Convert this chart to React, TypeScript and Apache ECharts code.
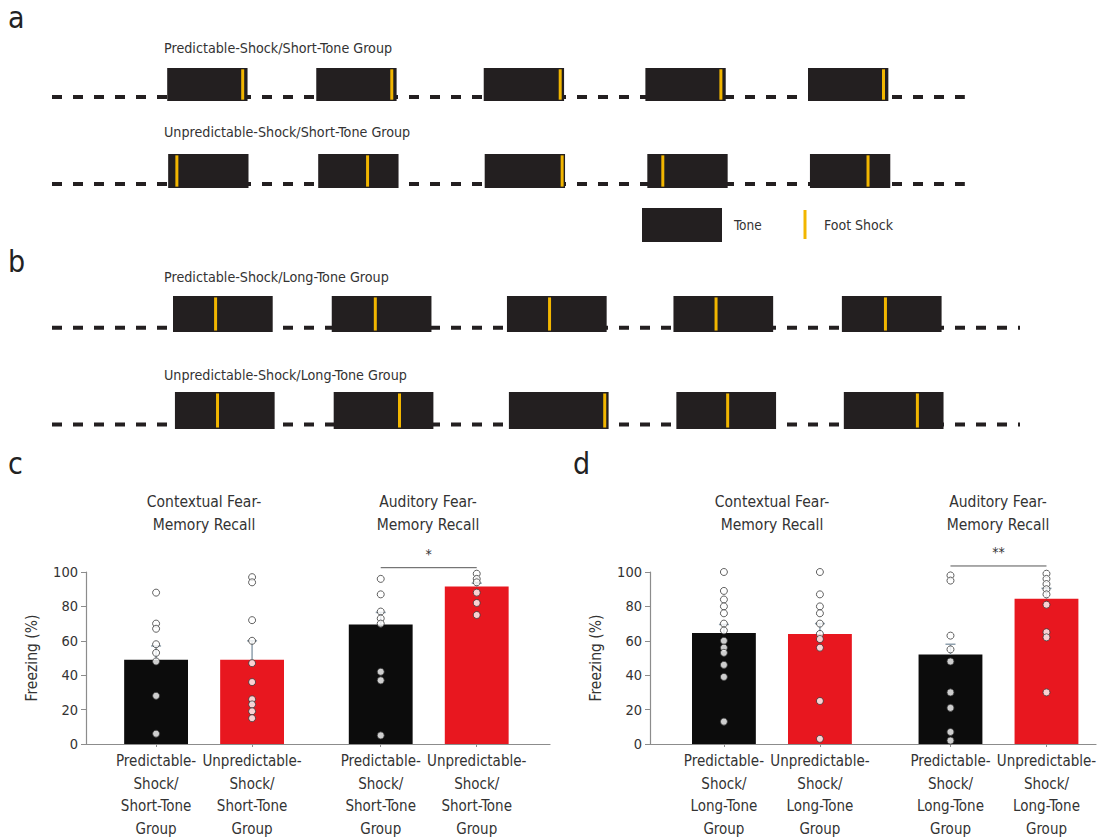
import React, { useEffect, useRef } from "react";
import * as echarts from "echarts";

const FONT = "'Liberation Sans Narrow', 'Arial Narrow', 'DejaVu Sans Condensed', 'Liberation Sans', sans-serif";
const TEXT = "#333333";
const TONE = "#231f20";
const SHOCK = "#f2b600";
const BLACK_BAR = "#0c0c0c";
const RED_BAR = "#e8171f";

// ---------- panels a & b : session timelines (arbitrary time units) ----------
const rowTitles = [
  "Predictable-Shock/Short-Tone Group",
  "Unpredictable-Shock/Short-Tone Group",
  "Predictable-Shock/Long-Tone Group",
  "Unpredictable-Shock/Long-Tone Group",
];
const predShortToneStarts = [11.9, 27.3, 44.6, 61.3, 78.1];
const predShortShocks = [19.7, 35.1, 52.5, 69.1, 85.9];
const unpredShortToneStarts = [12.0, 27.5, 44.7, 61.5, 78.3];
const unpredShortShocks = [12.9, 32.6, 52.7, 63.1, 84.3];
const predLongToneStarts = [12.5, 28.9, 47.0, 64.2, 81.6];
const predLongShocks = [16.9, 33.4, 51.4, 68.6, 86.1];
const unpredLongToneStarts = [12.7, 29.1, 47.2, 64.5, 81.8];
const unpredLongShocks = [17.1, 35.9, 57.1, 69.8, 89.4];
const shortToneLength = 8.3;
const longToneLength = 10.3;
const shortSessionEnd = 94.3;
const longSessionEnd = 100;

// ---------- panels c & d : freezing (%) ----------
const groupTitles = ["Contextual Fear-\nMemory Recall", "Auditory Fear-\nMemory Recall"];
const shortToneLabels = [
  "Predictable-\nShock/\nShort-Tone\nGroup",
  "Unpredictable-\nShock/\nShort-Tone\nGroup",
  "Predictable-\nShock/\nShort-Tone\nGroup",
  "Unpredictable-\nShock/\nShort-Tone\nGroup",
];
const longToneLabels = [
  "Predictable-\nShock/\nLong-Tone\nGroup",
  "Unpredictable-\nShock/\nLong-Tone\nGroup",
  "Predictable-\nShock/\nLong-Tone\nGroup",
  "Unpredictable-\nShock/\nLong-Tone\nGroup",
];
const yTicks = [0, 20, 40, 60, 80, 100];

const cMeans = [49, 49, 69.5, 91.5];
const cSem = [8, 11, 7, 2];
const cPoints = [
  [88, 70, 67, 58, 53, 48, 28, 6],
  [97, 94, 72, 60, 47, 36, 26, 23, 19, 15],
  [96, 87, 77, 73, 70, 42, 37, 5],
  [99, 96, 94, 88, 82, 75],
];
const cSignificance = { from: 2, to: 3, level: 102.5, label: "*" };

const dMeans = [64.5, 64, 52, 84.5];
const dSem = [5, 6, 6, 6];
const dPoints = [
  [100, 89, 84, 80, 76, 70, 66, 60, 56, 53, 46, 39, 13],
  [100, 87, 80, 76, 70, 64, 61, 56, 25, 3],
  [98, 95, 63, 55, 48, 30, 21, 7, 2],
  [99, 96, 93, 90, 87, 81, 65, 62, 30],
];
const dSignificance = { from: 2, to: 3, level: 103.5, label: "**" };

const barColors = [BLACK_BAR, RED_BAR, BLACK_BAR, RED_BAR];

// ---------- layout ----------
const timelineRows = [
  { starts: predShortToneStarts, shocks: predShortShocks, len: shortToneLength, end: shortSessionEnd, top: 68, h: 33, titleY: 48 },
  { starts: unpredShortToneStarts, shocks: unpredShortShocks, len: shortToneLength, end: shortSessionEnd, top: 154, h: 34, titleY: 132 },
  { starts: predLongToneStarts, shocks: predLongShocks, len: longToneLength, end: longSessionEnd, top: 296, h: 36, titleY: 277 },
  { starts: unpredLongToneStarts, shocks: unpredLongShocks, len: longToneLength, end: longSessionEnd, top: 392, h: 37, titleY: 375 },
];
const BASE = 0.12;

const barPanels = [
  { means: cMeans, sem: cSem, points: cPoints, sig: cSignificance, labels: shortToneLabels, left: 86, width: 464, offsets: [0.73, 3.07] },
  { means: dMeans, sem: dSem, points: dPoints, sig: dSignificance, labels: longToneLabels, left: 650, width: 446, offsets: [0.77, 3.13] },
];
const UNIT = 96; // px per bar slot
const PANEL_TOP = 572;
const PANEL_H = 172;

function buildOption() {
  const grid: any[] = [];
  const xAxis: any[] = [];
  const yAxis: any[] = [];
  const series: any[] = [];

  timelineRows.forEach((row, i) => {
    grid.push({ left: 52, width: 968, top: row.top, height: row.h, outerBoundsMode: "none" });
    xAxis.push({ type: "value", gridIndex: i, min: 0, max: 100, show: false });
    yAxis.push({ type: "value", gridIndex: i, min: 0, max: 1, show: false });
    series.push({
      type: "line",
      xAxisIndex: i,
      yAxisIndex: i,
      data: [[0, BASE], [row.end, BASE]],
      symbol: "none",
      silent: true,
      z: 1,
      lineStyle: { color: TONE, width: 4, type: [10, 11] },
    });
    series.push({
      type: "custom",
      xAxisIndex: i,
      yAxisIndex: i,
      z: 2,
      silent: true,
      data: row.starts.map((s) => [s, s + row.len]),
      encode: { x: [0, 1] },
      renderItem: (params: any, api: any) => {
        const p0 = api.coord([api.value(0), 1]);
        const p1 = api.coord([api.value(1), 0]);
        return {
          type: "rect",
          shape: { x: p0[0], y: p0[1], width: p1[0] - p0[0], height: p1[1] - p0[1] },
          style: { fill: TONE },
        };
      },
    });
    series.push({
      type: "custom",
      xAxisIndex: i,
      yAxisIndex: i,
      z: 3,
      silent: true,
      data: row.shocks.map((t) => [t]),
      encode: { x: 0 },
      renderItem: (params: any, api: any) => {
        const a = api.coord([api.value(0), 0.04]);
        const b = api.coord([api.value(0), 0.96]);
        return {
          type: "line",
          shape: { x1: a[0], y1: a[1], x2: b[0], y2: b[1] },
          style: { stroke: SHOCK, lineWidth: 3 },
        };
      },
    });
  });

  barPanels.forEach((p, k) => {
    const gi = 4 + k;
    const pos = [p.offsets[0], p.offsets[0] + 1, p.offsets[1], p.offsets[1] + 1];
    const labelFor = (v: number) => {
      let best = 0;
      pos.forEach((q, i) => {
        if (Math.abs(q - v) < Math.abs(pos[best] - v)) best = i;
      });
      return p.labels[best];
    };
    grid.push({ left: p.left, width: p.width, top: PANEL_TOP, height: PANEL_H, outerBoundsMode: "none", containLabel: false });
    xAxis.push({
      type: "value",
      gridIndex: gi,
      min: 0,
      max: p.width / UNIT,
      splitLine: { show: false },
      axisLine: { show: true, lineStyle: { color: "#8c8c8c", width: 1.2 } },
      axisTick: { show: true, customValues: pos, length: 3, lineStyle: { color: "#8c8c8c" } },
      axisLabel: {
        show: true,
        customValues: pos,
        formatter: (v: number) => labelFor(v),
        fontFamily: FONT,
        fontSize: 15,
        lineHeight: 22.5,
        color: TEXT,
        margin: 6,
        hideOverlap: false,
      },
    });
    yAxis.push({
      type: "value",
      gridIndex: gi,
      min: 0,
      max: 100,
      interval: 20,
      splitLine: { show: false },
      axisLine: { show: true, lineStyle: { color: "#8c8c8c", width: 1.2 } },
      axisTick: { show: true, length: 5, lineStyle: { color: "#8c8c8c" } },
      axisLabel: {
        fontFamily: FONT,
        fontSize: 14.5,
        color: TEXT,
        margin: 8,
        formatter: (v: number) => (yTicks.includes(v) ? String(v) : ""),
      },
      name: "Freezing (%)",
      nameLocation: "middle",
      nameGap: 46,
      nameTextStyle: { fontFamily: FONT, fontSize: 15.5, color: TEXT },
    });
    series.push({
      type: "bar",
      xAxisIndex: gi,
      yAxisIndex: gi,
      barWidth: UNIT * 0.665,
      z: 2,
      silent: true,
      data: p.means.map((m, i) => ({ value: [pos[i], m], itemStyle: { color: barColors[i] } })),
    });
    series.push({
      type: "custom",
      xAxisIndex: gi,
      yAxisIndex: gi,
      z: 3,
      silent: true,
      clip: false,
      data: p.means.map((m, i) => [pos[i], m, m + p.sem[i]]),
      encode: { x: 0, y: [1, 2] },
      renderItem: (params: any, api: any) => {
        const a = api.coord([api.value(0), api.value(1)]);
        const b = api.coord([api.value(0), api.value(2)]);
        const st = { stroke: "#8fa0ad", lineWidth: 1.5 };
        return {
          type: "group",
          children: [
            { type: "line", shape: { x1: a[0], y1: a[1], x2: b[0], y2: b[1] }, style: st },
            { type: "line", shape: { x1: b[0] - 5, y1: b[1], x2: b[0] + 5, y2: b[1] }, style: st },
          ],
        };
      },
    });
    series.push({
      type: "scatter",
      xAxisIndex: gi,
      yAxisIndex: gi,
      z: 4,
      silent: true,
      clip: false,
      symbol: "circle",
      symbolSize: 7,
      itemStyle: { color: "#ffffff", borderColor: "#3a3a3a", borderWidth: 1 },
      data: p.points.flatMap((arr, i) => arr.map((v) => [pos[i], v])),
    });
    series.push({
      type: "custom",
      xAxisIndex: gi,
      yAxisIndex: gi,
      z: 5,
      silent: true,
      clip: false,
      data: [[pos[p.sig.from], pos[p.sig.to], p.sig.level]],
      encode: { x: [0, 1], y: 2 },
      renderItem: (params: any, api: any) => {
        const a = api.coord([api.value(0), api.value(2)]);
        const b = api.coord([api.value(1), api.value(2)]);
        return {
          type: "group",
          children: [
            { type: "line", shape: { x1: a[0], y1: a[1], x2: b[0], y2: b[1] }, style: { stroke: "#555", lineWidth: 1 } },
            {
              type: "text",
              x: (a[0] + b[0]) / 2,
              y: a[1] - 7,
              style: { text: p.sig.label, fontFamily: FONT, fontSize: 14, fill: TEXT, align: "center", verticalAlign: "bottom" },
            },
          ],
        };
      },
    });
  });

  const graphic: any[] = [];
  const letter = (t: string, x: number, y: number) => ({
    type: "text",
    left: x,
    top: y,
    style: { text: t, fontFamily: FONT, fontSize: 30, fill: "#222" },
  });
  graphic.push(letter("a", 8, 2));
  graphic.push(letter("b", 8, 246));
  graphic.push(letter("c", 8, 448));
  graphic.push(letter("d", 573, 448));

  timelineRows.forEach((row, i) => {
    graphic.push({
      type: "text",
      x: 164,
      y: row.titleY,
      style: { text: rowTitles[i], fontFamily: FONT, fontSize: 14.2, fill: TEXT, verticalAlign: "middle" },
    });
  });

  // legend
  graphic.push({ type: "rect", shape: { x: 642, y: 208, width: 80, height: 34 }, style: { fill: TONE } });
  graphic.push({ type: "text", x: 734, y: 225, style: { text: "Tone", fontFamily: FONT, fontSize: 13.5, fill: TEXT, verticalAlign: "middle" } });
  graphic.push({ type: "line", shape: { x1: 805, y1: 210, x2: 805, y2: 239 }, style: { stroke: SHOCK, lineWidth: 3 } });
  graphic.push({ type: "text", x: 824, y: 225, style: { text: "Foot Shock", fontFamily: FONT, fontSize: 14, fill: TEXT, verticalAlign: "middle" } });

  // group titles above bar panels
  const titleCenters = [[204, 428], [772, 998]];
  titleCenters.forEach((pair) => {
    pair.forEach((cx, j) => {
      graphic.push({
        type: "text",
        x: cx,
        y: 513,
        style: {
          text: groupTitles[j],
          fontFamily: FONT,
          fontSize: 15.5,
          lineHeight: 23,
          fill: TEXT,
          align: "center",
          verticalAlign: "middle",
        },
      });
    });
  });

  return {
    animation: false,
    backgroundColor: "#ffffff",
    grid,
    xAxis,
    yAxis,
    series,
    graphic,
  };
}

export default function App() {
  const ref = useRef<HTMLDivElement>(null);
  useEffect(() => {
    document.body.style.margin = "0";
    if (!ref.current) return;
    const chart = echarts.init(ref.current, undefined, { renderer: "svg" });
    chart.setOption(buildOption() as any);
    return () => chart.dispose();
  }, []);
  return <div ref={ref} style={{ width: 1099, height: 837 }} />;
}
